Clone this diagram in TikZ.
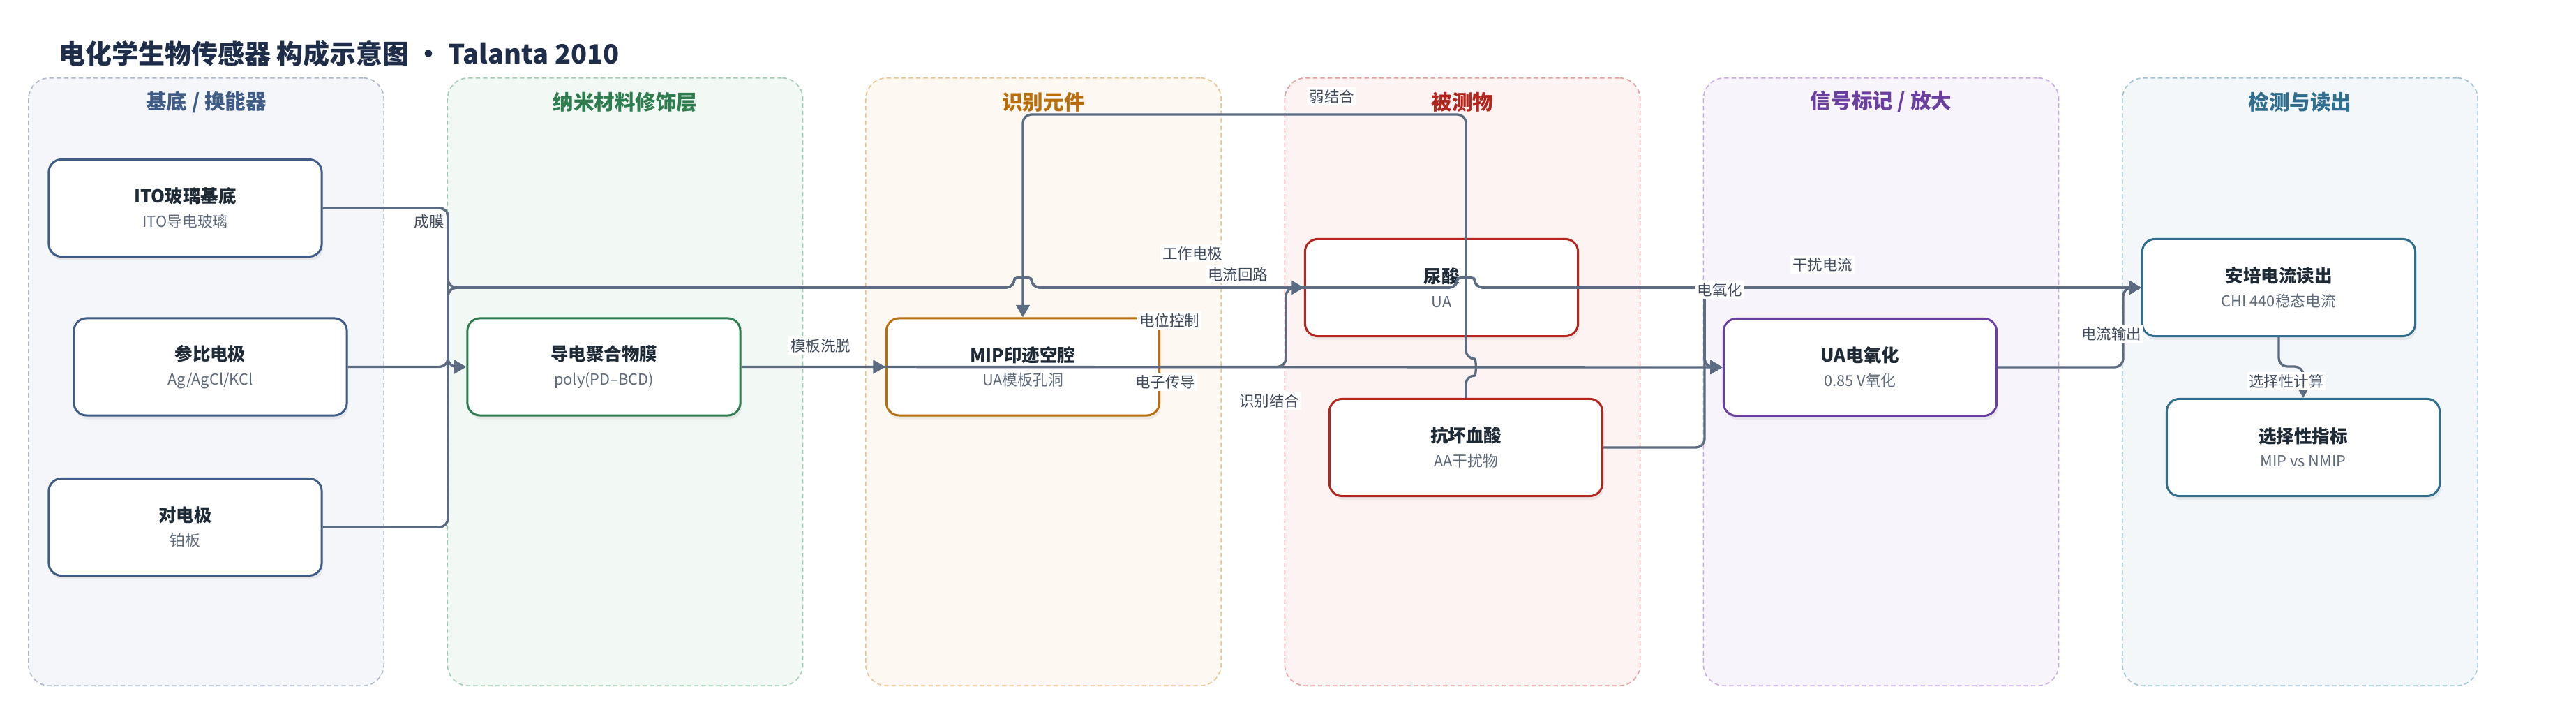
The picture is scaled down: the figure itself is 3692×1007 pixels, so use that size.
\documentclass[tikz,border=0pt]{standalone}
\usepackage{fontspec}
\setmainfont{Noto Sans CJK SC}
\usetikzlibrary{arrows.meta,shadows}

\definecolor{ink}{HTML}{1F2A37}
\definecolor{titleink}{HTML}{1E2D4A}
\definecolor{subink}{HTML}{5F6B7B}
\definecolor{wire}{HTML}{5B6B82}
\definecolor{lblink}{HTML}{3F4A5C}
\definecolor{laneA}{HTML}{3E5C85}
\definecolor{laneAf}{HTML}{F5F6FA}
\definecolor{laneAd}{HTML}{AEB9CC}
\definecolor{laneB}{HTML}{2E7D4F}
\definecolor{laneBf}{HTML}{F2F8F4}
\definecolor{laneBd}{HTML}{A3CDB3}
\definecolor{laneC}{HTML}{B86E0A}
\definecolor{laneCf}{HTML}{FDF8F1}
\definecolor{laneCd}{HTML}{E8C48E}
\definecolor{laneD}{HTML}{B3261E}
\definecolor{laneDf}{HTML}{FDF3F3}
\definecolor{laneDd}{HTML}{E59C9C}
\definecolor{laneE}{HTML}{6B3FA0}
\definecolor{laneEf}{HTML}{F7F4FB}
\definecolor{laneEd}{HTML}{C9ACE3}
\definecolor{laneF}{HTML}{2F6E8E}
\definecolor{laneFf}{HTML}{F3F7F9}
\definecolor{laneFd}{HTML}{9FC3D3}

\newcommand{\boxtext}[2]{{\bfseries\color{ink}#1}\\{\fontsize{6.2}{9.8}\selectfont\color{subink}#2}}
\newcommand{\hoph}[2]{-- ({#1-12},#2) .. controls ({#1-12},{#2-15}) and ({#1+12},{#2-15}) .. ({#1+12},#2)}
\newcommand{\hopv}[2]{-- (#1,{#2+12}) .. controls ({#1+15},{#2+12}) and ({#1+15},{#2-12}) .. (#1,{#2-12})}

\begin{document}
\begin{tikzpicture}[x=0.01cm,y=-0.01cm,>={Triangle[length=5pt,width=5.6pt]},
    lane/.style={shape=rectangle,rounded corners=0.3cm,line width=0.45pt,dash pattern=on 1.8pt off 1.2pt,minimum width=5.09cm,minimum height=8.7cm},
    lanetitle/.style={font=\fontsize{8.4}{10}\selectfont\bfseries},
    ubox/.style={shape=rectangle,rounded corners=0.18cm,line width=0.85pt,fill=white,minimum width=3.91cm,minimum height=1.39cm,align=center,
        font=\fontsize{7.25}{9.8}\selectfont,drop shadow={shadow xshift=0.6pt,shadow yshift=-1.6pt,opacity=0.12}},
    flow/.style={->,draw=wire,line width=0.95pt,rounded corners=3.5pt},
    elabel/.style={fill=white,inner sep=0.8pt,text=lblink,font=\fontsize{6.1}{7}\selectfont}]
                \path[use as bounding box,fill=white](0, 0) rectangle (3692, 1007);
                \node[anchor=west,font=\fontsize{10.8}{13}\selectfont\bfseries,text=titleink](title)at(72, 77){电化学生物传感器 构成示意图 · Talanta 2010};

                \node[lane,draw=laneAd,fill=laneAf](laneA)at(295.5, 547){};
                \node[lane,draw=laneBd,fill=laneBf](laneB)at(896, 547){};
                \node[lane,draw=laneCd,fill=laneCf](laneC)at(1495.5, 547){};
                \node[lane,draw=laneDd,fill=laneDf](laneD)at(2096, 547){};
                \node[lane,draw=laneEd,fill=laneEf](laneE)at(2696, 547){};
                \node[lane,draw=laneFd,fill=laneFf](laneF)at(3296.5, 547){};
                \node[lanetitle,text=laneA](laneAt)at(295.5, 146){基底 / 换能器};
                \node[lanetitle,text=laneB](laneBt)at(896, 146){纳米材料修饰层};
                \node[lanetitle,text=laneC](laneCt)at(1495.5, 146){识别元件};
                \node[lanetitle,text=laneD](laneDt)at(2096, 146){被测物};
                \node[lanetitle,text=laneE](laneEt)at(2696, 146){信号标记 / 放大};
                \node[lanetitle,text=laneF](laneFt)at(3296.5, 146){检测与读出};

                \node[ubox,draw=laneA](ito)at(265.5, 298){\boxtext{ITO玻璃基底}{ITO导电玻璃}};
                \node[ubox,draw=laneA](ref)at(301.5, 525.5){\boxtext{参比电极}{Ag/AgCl/KCl}};
                \node[ubox,draw=laneA](ctr)at(265.5, 755){\boxtext{对电极}{铂板}};
                \node[ubox,draw=laneB](poly)at(865.5, 525.5){\boxtext{导电聚合物膜}{poly(PD–BCD)}};
                \node[ubox,draw=laneC](mip)at(1466, 525.5){\boxtext{MIP印迹空腔}{UA模板孔洞}};
                \node[ubox,draw=laneD](uric)at(2066, 412){\boxtext{尿酸}{UA}};
                \node[ubox,draw=laneD](asc)at(2101, 641){\boxtext{抗坏血酸}{AA干扰物}};
                \node[ubox,draw=laneE](uaox)at(2666, 526){\boxtext{UA电氧化}{0.85 V氧化}};
                \node[ubox,draw=laneF](amp)at(3266, 412){\boxtext{安培电流读出}{CHI 440稳态电流}};
                \node[ubox,draw=laneF](sel)at(3301, 641){\boxtext{选择性指标}{MIP vs NMIP}};

                \draw[flow](ito.east) -| (642, 525.5) -- (poly.west);
                \draw[flow](poly.east) -- (mip.west);
                \draw[flow](ito.east) -| (642, 412) \hoph{1466}{412} \hoph{2101}{412} -- (amp.west);
                \draw[flow](ctr.east) -| (642, 412) \hoph{1466}{412} \hoph{2101}{412} -- (amp.west);
                \draw[flow](ref.east) -| (642, 412) \hoph{1466}{412} \hoph{2101}{412} -- (2443, 412) |- (uaox.west);
                \draw[flow](poly.east) -- (uaox.west);
                \draw[flow](mip.east) -- (1843, 525.5) |- (uric.west);
                \draw[flow](asc.north) \hopv{2101}{526} -- (2101, 164) -| (mip.north);
                \draw[flow](uric.east) -- (2443, 412) |- (uaox.west);
                \draw[flow](asc.east) -- (2443, 641) |- (amp.west);
                \draw[flow](uaox.east) -- (3043, 526) |- (amp.west);
                \draw[flow](amp.south) -- ++(0, 42) -| (sel.north);

                \node[elabel](lFilm)at(615, 317){成膜};
                \node[elabel](lWash)at(1176, 495){模板洗脱};
                \node[elabel](lWork)at(1709, 363){工作电极};
                \node[elabel](lLoop)at(1774, 393){电流回路};
                \node[elabel](lPot)at(1676, 459){电位控制};
                \node[elabel](lCond)at(1670, 547){电子传导};
                \node[elabel](lRec)at(1819, 574){识别结合};
                \node[elabel](lWeak)at(1909, 138){弱结合};
                \node[elabel](lOx)at(2465, 415){电氧化};
                \node[elabel](lInt)at(2612, 379){干扰电流};
                \node[elabel](lOut)at(3026, 478){电流输出};
                \node[elabel](lSel)at(3277, 546){选择性计算};
\end{tikzpicture}
\end{document}
